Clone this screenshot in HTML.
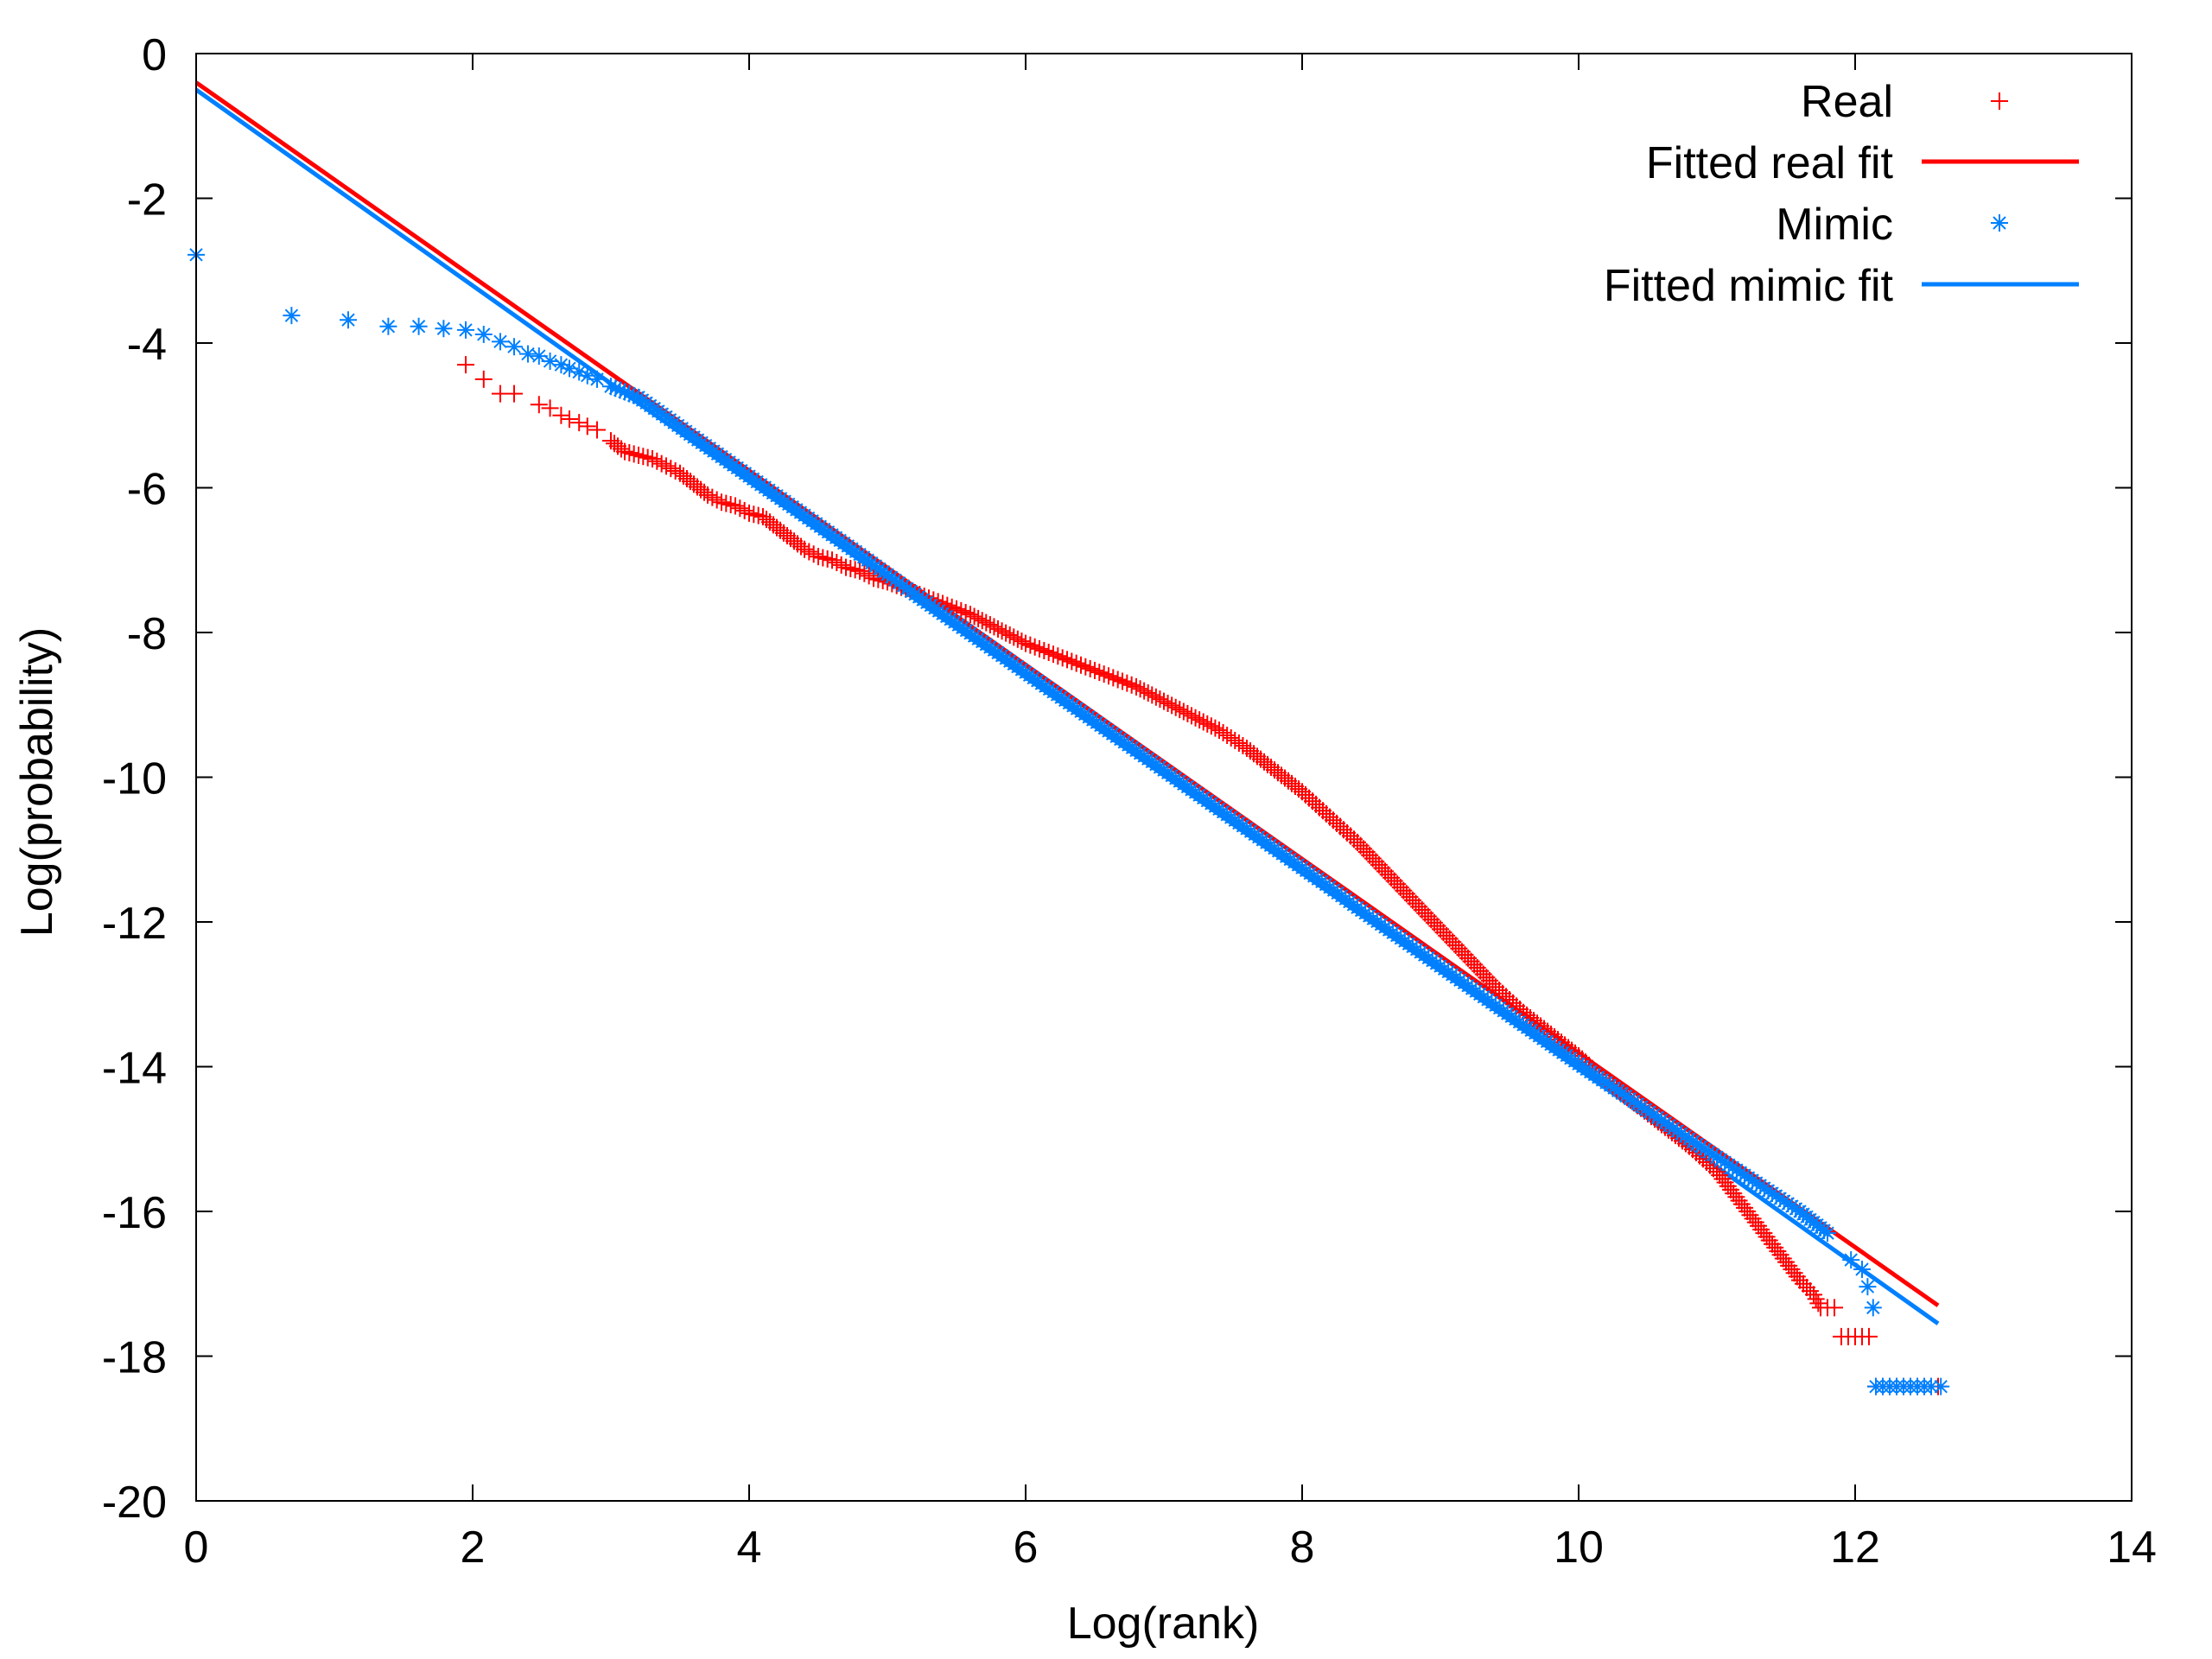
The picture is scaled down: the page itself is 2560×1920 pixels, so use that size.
<!DOCTYPE html>
<html><head><meta charset="utf-8">
<style>
html,body{margin:0;padding:0;background:#fff;}
svg{display:block;font-family:"Liberation Sans",Arial,sans-serif;}
</style></head>
<body>
<svg id="chart" width="2560" height="1920" viewBox="0 0 2560 1920" xmlns="http://www.w3.org/2000/svg">
<rect x="0" y="0" width="2560" height="1920" fill="#fff"/>
<g id="plot"></g>
<g id="axes"></g>
<text x="1346" y="1896" font-size="52" text-anchor="middle">Log(rank)</text>
<text x="0" y="0" font-size="52" text-anchor="middle" transform="translate(60,905) rotate(-90)">Log(probability)</text>
<g>
  <g>
    <text x="2191" y="135" font-size="52" text-anchor="end">Real</text>
    <path d="M2304 117h20M2314 107v20" stroke="#ff0000" stroke-width="2"/>
  </g>
  <g>
    <text x="2191" y="206" font-size="52" text-anchor="end">Fitted real fit</text>
    <line x1="2224" y1="187" x2="2406" y2="187" stroke="#ff0000" stroke-width="5"/>
  </g>
  <g>
    <text x="2191" y="277" font-size="52" text-anchor="end">Mimic</text>
    <path d="M2304 258h20M2314 248v20M2307 251l14 14M2321 251l-14 14" stroke="#0080ff" stroke-width="2"/>
  </g>
  <g>
    <text x="2191" y="348" font-size="52" text-anchor="end">Fitted mimic fit</text>
    <line x1="2224" y1="329" x2="2406" y2="329" stroke="#0080ff" stroke-width="5"/>
  </g>
</g>
</svg>
<script>
const xTicks = [0,2,4,6,8,10,12,14];
const yTicks = [0,-2,-4,-6,-8,-10,-12,-14,-16,-18,-20];
const realX = [1.95,2.08,2.2,2.3,2.48,2.56,2.64,2.7,2.77,2.83,2.9,3.0,3.1,3.2,3.3,3.4,3.5,3.6,3.7,3.8,3.9,4.0,4.1,4.2,4.3,4.4,4.5,4.6,4.7,4.8,4.9,5.0,5.2,5.4,5.6,5.8,6.0,6.2,6.4,6.6,6.8,7.0,7.2,7.4,7.6,7.8,8.0,8.2,8.4,8.6,8.8,9.0,9.2,9.4,9.6,9.8,10.0,10.2,10.4,10.6,10.8,11.0,11.1,11.2,11.3,11.4,11.5,11.6,11.7,11.75,11.8,11.85,11.9,11.95,12.0,12.05,12.1,12.15,12.2,12.25,12.3,12.35,12.4,12.45,12.5,12.55,12.6];
const realY = [-4.3,-4.5,-4.7,-4.7,-4.85,-4.9,-5.0,-5.05,-5.1,-5.15,-5.2,-5.35,-5.5,-5.55,-5.6,-5.7,-5.8,-5.95,-6.1,-6.2,-6.25,-6.35,-6.4,-6.55,-6.7,-6.85,-6.95,-7.0,-7.1,-7.15,-7.25,-7.3,-7.45,-7.6,-7.75,-7.95,-8.15,-8.3,-8.45,-8.6,-8.75,-8.95,-9.15,-9.35,-9.6,-9.9,-10.2,-10.55,-10.9,-11.3,-11.7,-12.1,-12.5,-12.9,-13.25,-13.55,-13.85,-14.2,-14.5,-14.8,-15.1,-15.45,-15.7,-15.95,-16.2,-16.45,-16.7,-16.95,-17.15,-17.33,-17.33,-17.33,-17.73,-17.73,-17.73,-17.73,-17.73,-18.42,-18.42,-18.42,-18.42,-18.42,-18.42,-18.42,-18.42,-18.42,-18.42];
const mimicX = [0,0.69,1.1,1.39,1.61,1.79,1.95,2.08,2.2,2.3,2.4,2.48,2.56,2.64,2.7,2.77,2.83,2.9,3.0,3.2,3.4,3.6,3.8,4.0,4.2,4.4,4.6,4.8,5.0,5.2,5.4,5.6,5.8,6.0,6.2,6.4,6.6,6.8,7.0,7.2,7.4,7.6,7.8,8.0,8.2,8.4,8.6,8.8,9.0,9.2,9.4,9.6,9.8,10.0,10.2,10.4,10.6,10.8,11.0,11.2,11.4,11.6,11.8,11.97,12.05,12.09,12.13,12.15,12.2,12.25,12.3,12.35,12.4,12.45,12.5,12.55,12.62];
const mimicY = [-2.78,-3.62,-3.68,-3.77,-3.77,-3.8,-3.82,-3.88,-3.98,-4.05,-4.15,-4.18,-4.25,-4.3,-4.35,-4.4,-4.45,-4.5,-4.6,-4.75,-5.02,-5.3,-5.57,-5.84,-6.11,-6.38,-6.65,-6.92,-7.2,-7.47,-7.74,-8.01,-8.28,-8.55,-8.82,-9.09,-9.36,-9.63,-9.9,-10.17,-10.44,-10.71,-10.98,-11.25,-11.52,-11.8,-12.07,-12.34,-12.61,-12.88,-13.15,-13.42,-13.69,-13.96,-14.22,-14.48,-14.74,-15.0,-15.25,-15.5,-15.75,-16.0,-16.3,-16.67,-16.8,-17.04,-17.33,-18.42,-18.42,-18.42,-18.42,-18.42,-18.42,-18.42,-18.42,-18.42,-18.42,-18.42];
const fitRangeX = [0,12.6];
const fitRealY = [-0.4,-17.3];
const fitMimicY = [-0.5,-17.55];

const L=227,R=2467,T=62,B=1737;
function sx(v){return L+(v-0)/(14-0)*(R-L);}
function sy(v){return T+(0-v)/(0-(-20))*(B-T);}
const NS='http://www.w3.org/2000/svg';
const plot=document.getElementById('plot');
const axes=document.getElementById('axes');
function mk(tag,attrs,parent){const e=document.createElementNS(NS,tag);for(const k in attrs)e.setAttribute(k,attrs[k]);parent.appendChild(e);return e;}

function plusPath(x,y){return 'M'+(x-10)+' '+y+'h20M'+x+' '+(y-10)+'v20';}
function starPath(x,y){return 'M'+(x-10)+' '+y+'h20M'+x+' '+(y-10)+'v20M'+(x-7)+' '+(y-7)+'l14 14M'+(x+7)+' '+(y-7)+'l-14 14';}
function drawSeries(xs,ys,color,shape,name){
  let d='';
  for(let i=0;i<xs.length;i++){
    const px=sx(xs[i]),py=sy(ys[i]);
    d+=shape(px,py);
    if(i+1<xs.length && xs[i]>=2.95 && xs[i+1]<=11.85 && (xs[i+1]-xs[i])<=0.25 && Math.abs(ys[i+1]-ys[i])<0.8){
      const qx=sx(xs[i+1]),qy=sy(ys[i+1]);
      const n=Math.max(1,Math.floor(Math.hypot(qx-px,qy-py)/5));
      for(let k=1;k<n;k++){d+=shape(px+(qx-px)*k/n,py+(qy-py)*k/n);}
    }
  }
  const p=mk('path',{d:d,stroke:color,'stroke-width':2,fill:'none'},plot);
  
  
}
function drawFit(ys,color,name){
  const l=mk('line',{x1:sx(fitRangeX[0]),y1:sy(ys[0]),x2:sx(fitRangeX[1]),y2:sy(ys[1]),stroke:color,'stroke-width':5},plot);
  
  
}
drawFit(fitRealY,'#ff0000','fitted-real-line');
drawFit(fitMimicY,'#0080ff','fitted-mimic-line');
drawSeries(realX,realY,'#ff0000',plusPath,'real-points');
drawSeries(mimicX,mimicY,'#0080ff',starPath,'mimic-points');

const frame=mk('rect',{x:L,y:T,width:R-L,height:B-T,fill:'none',stroke:'#000','stroke-width':2},axes);


xTicks.forEach(v=>{
  const x=sx(v);
  const t=mk('path',{d:'M'+x+' '+B+'v-19M'+x+' '+T+'v19',stroke:'#000','stroke-width':2},axes);
  
  
  const lb=mk('text',{x:x,y:1808,'font-size':52,'text-anchor':'middle'},axes);
  lb.textContent=String(v);
  
  
});
yTicks.forEach(v=>{
  const y=sy(v);
  const t=mk('path',{d:'M'+L+' '+y+'h19M'+R+' '+y+'h-19',stroke:'#000','stroke-width':2},axes);
  
  
  const lb=mk('text',{x:193,y:y+19,'font-size':52,'text-anchor':'end'},axes);
  lb.textContent=String(v);
  
  
});
</script>
</body></html>
